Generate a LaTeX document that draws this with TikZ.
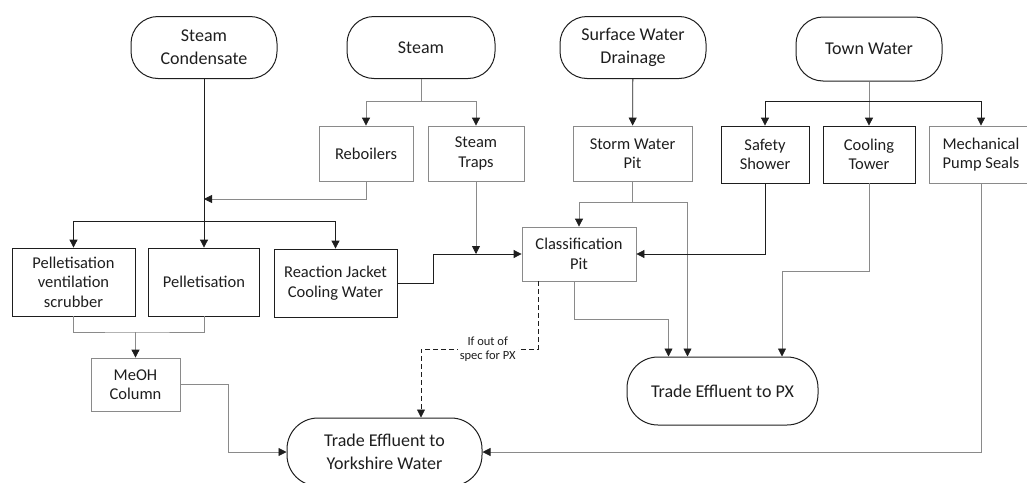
\documentclass[tikz,border=0pt]{standalone}
\usepackage{fontspec}
\setmainfont{Carlito}
\usetikzlibrary{arrows.meta,positioning,calc}
\definecolor{dline}{HTML}{1E1E1E}
\definecolor{gline}{HTML}{8A8A8A}

\begin{document}
\begin{tikzpicture}[
    x=1pt, y=-1pt,
    text=dline,
    term/.style={draw=dline, line width=1pt, rounded corners=27pt, align=center,
                 font=\fontsize{18}{23}\selectfont, minimum height=62pt, inner sep=0pt},
    box/.style={draw=dline, line width=0.8pt, align=center,
                font=\fontsize{16.5}{19.5}\selectfont, inner sep=0pt},
    gbox/.style={box, draw=gline},
    fl/.style={-{Triangle[length=8pt,width=8pt,color=dline]}, draw=dline, line width=0.8pt},
    gfl/.style={fl, draw=gline},
    gl/.style={draw=gline, line width=0.8pt},
    note/.style={font=\fontsize{12.5}{13.5}\selectfont, align=center, fill=white, inner sep=2pt}
  ]
  \useasboundingbox (0,0) rectangle (1027,482);
  \clip (0,0) rectangle (1027,482);

  % sources
  \node[term, minimum width=146pt] (sc) at (204,47.5) {Steam\\Condensate};
  \node[term, minimum width=148pt] (st) at (421,47.5) {Steam};
  \node[term, minimum width=146pt] (swd) at (633,47.5) {Surface Water\\Drainage};
  \node[term, minimum width=146pt, minimum height=64pt] (tw) at (869,49) {Town Water};

  % users
  \node[gbox, minimum width=94pt, minimum height=55pt] (reb) at (366,153.5) {Reboilers};
  \node[gbox, minimum width=96pt, minimum height=55pt] (trap) at (476,153.5) {Steam\\Traps};
  \node[gbox, minimum width=119pt, minimum height=55pt] (swp) at (632.5,153.5) {Storm Water\\Pit};
  \node[box, minimum width=88pt, minimum height=57pt] (ss) at (765,154.5) {Safety\\Shower};
  \node[box, minimum width=92pt, minimum height=57pt] (ct) at (869,154.5) {Cooling\\Tower};
  \node[gbox, minimum width=104pt, minimum height=57pt] (mps) at (981,154.5) {Mechanical\\Pump Seals};

  \node[box, minimum width=123pt, minimum height=68pt] (pvs) at (73.5,282) {Pelletisation\\ventilation\\scrubber};
  \node[box, minimum width=111pt, minimum height=68pt] (pel) at (204,282) {Pelletisation};
  \node[box, minimum width=123pt, minimum height=68pt] (rjc) at (335.5,283) {Reaction Jacket\\Cooling Water};
  \node[gbox, minimum width=114pt, minimum height=54pt] (cp) at (579,254) {Classification\\Pit};
  \node[gbox, minimum width=89pt, minimum height=53pt] (meoh) at (135.5,384.5) {MeOH\\Column};

  % effluent
  \node[term, minimum width=195pt, minimum height=68pt, rounded corners=31pt] (ty) at (384.5,452) {Trade Effluent to\\Yorkshire Water};
  \node[term, minimum width=191pt, minimum height=68pt, rounded corners=31pt] (tpx) at (722.5,391) {Trade Effluent to PX};

  % steam condensate
  \coordinate (bus) at (204,221);
  \coordinate (rj) at (204,199);
  \draw[fl] (sc) -- (pel);
  \draw[fl] (bus) -| (pvs);
  \draw[fl] (bus) -| (rjc);

  % steam
  \coordinate (stj) at (421,101);
  \draw[gl] (st) -- (stj);
  \draw[gfl] (stj) -| (reb);
  \draw[gfl] (stj) -| (trap);
  \draw[gfl] (reb) |- (rj);
  \draw[gfl] (trap) -- (trap.south |- cp.west);

  % pelletisation to MeOH column
  \coordinate (mj) at (135.5,332);
  \draw[gl] (pvs) |- (mj) -| (pel);
  \draw[gfl] (mj) -- (meoh);
  \draw[gfl] (meoh.east) -- ++(48,0) |- (ty);

  \draw[fl] (rjc.east) -- ++(36,0) |- (cp);

  % surface water
  \coordinate (swj) at (632.5,202);
  \draw[fl] (swd) -- (swp);
  \draw[gl] (swp) -- (swj);
  \draw[gfl] (swj) -| (cp);
  \draw[gfl] (swj) -| ([xshift=-35pt]tpx.north);
  \draw[gfl] ([xshift=-5pt]cp.south) -- ++(0,38) -| ([xshift=-54pt]tpx.north);
  \draw[fl, dash pattern=on 5pt off 3pt] ([xshift=-41pt]cp.south) -- ++(0,68)
    -| node[note, pos=0.215] {If out of\\spec for PX} ([xshift=36.5pt]ty.north);

  % town water
  \coordinate (twj) at (869,101);
  \draw[gl] (tw) -- (twj);
  \draw[fl] (twj) -| (ss);
  \draw[gfl] (twj) -- (ct);
  \draw[fl] (twj) -| (mps);
  \draw[fl] (ss) |- (cp);
  \draw[gfl] (ct.south) -- ++(0,88) -| ([xshift=59.5pt]tpx.north);
  \draw[gfl] (mps) |- (ty);
\end{tikzpicture}
\end{document}
